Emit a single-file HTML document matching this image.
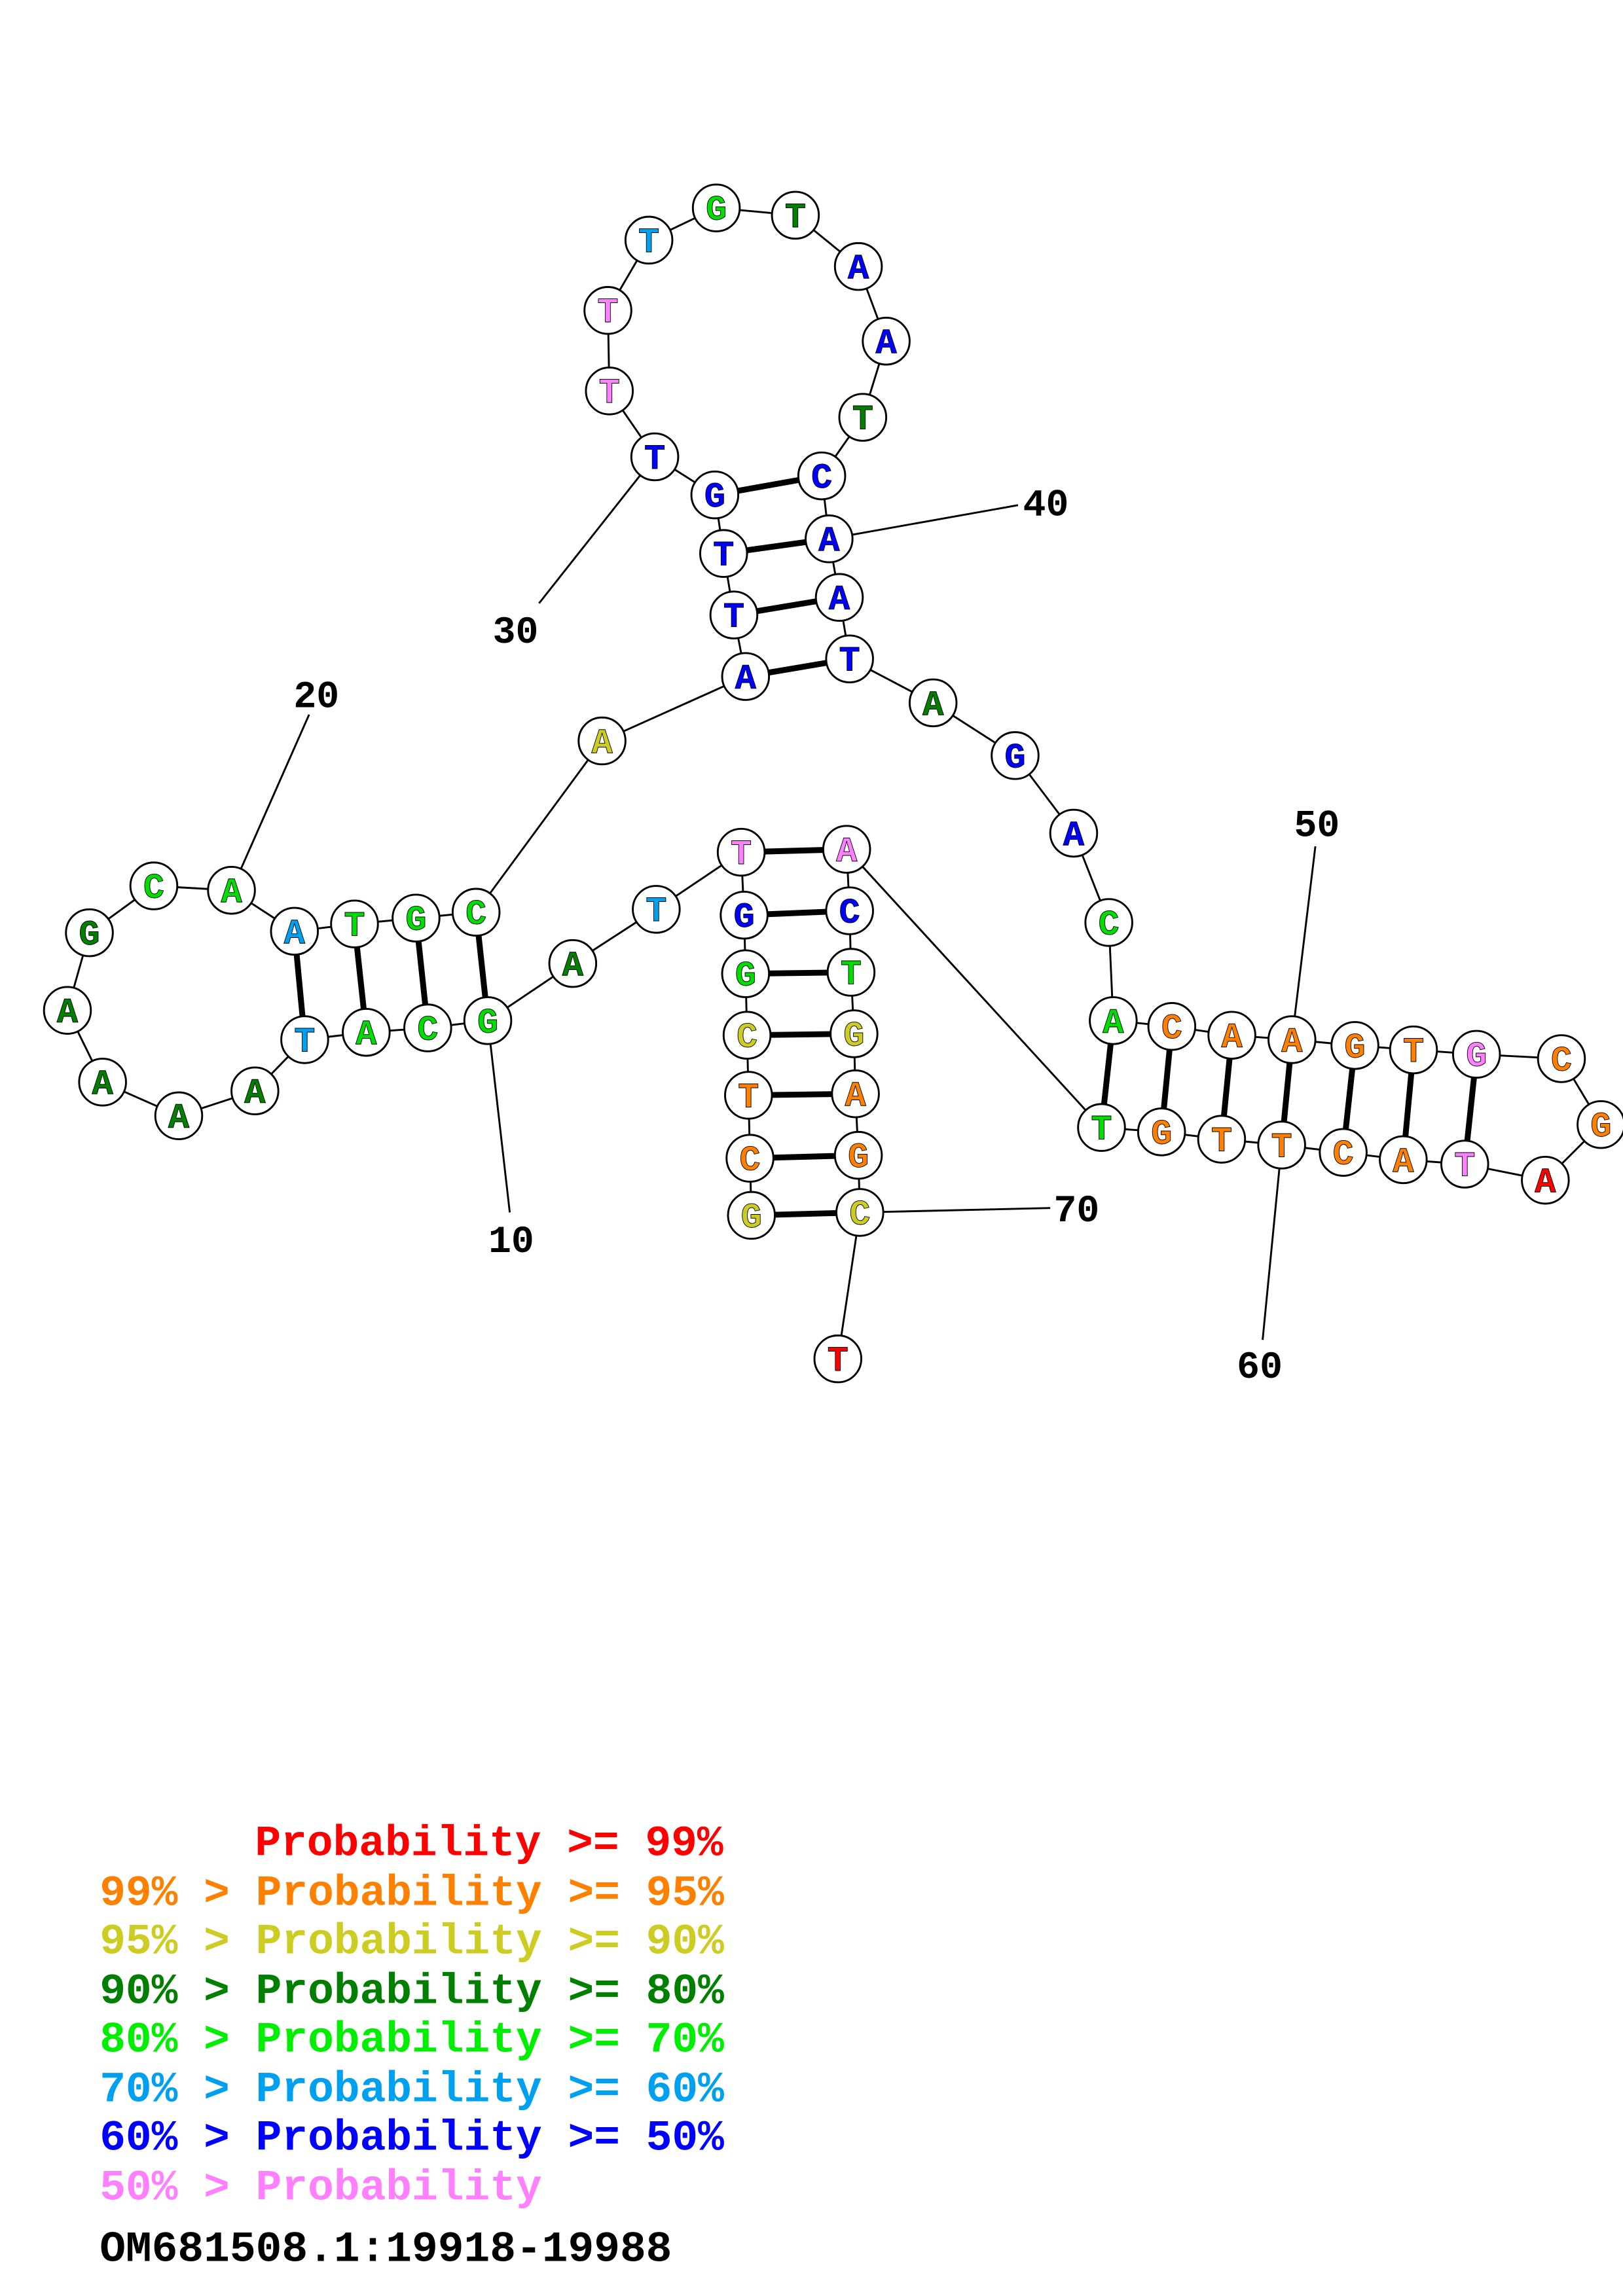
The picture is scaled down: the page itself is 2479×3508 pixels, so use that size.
<!DOCTYPE html>
<html><head><meta charset="utf-8"><style>html,body{margin:0;padding:0;background:#fff}svg{display:block}</style></head>
<body>
<svg xmlns="http://www.w3.org/2000/svg" width="2479" height="3508" viewBox="0 0 1108 1568">
<rect width="1108" height="1568" fill="#fff"/>
<polyline fill="none" stroke="#000" stroke-width="1.3" points="513,830 512,791 511,748 510,707 509,665 508,625 506,582 448,621 391,658 333,697 292,702 250,705 208,710 174,745 122,762 70,739 46,690 61,637 105,605 158,608 201,636 242,631 284,627 325,623 411,506 509,462 501,420 494,378 488,338 447,312 416,267 415,212 443,164 489,142 543,147 586,182 605,233 589,285 561,325 566,368 573,408 580,450 637,480 693,516 733,569 757,630 760,697 800,701 841,707 882,710 925,714 965,717 1008,720 1066,723 1093,768 1055,806 1000,795 958,792 917,787 875,782 834,778 793,773 752,770 578,580 580,622 581,664 583,706 584,747 586,789 587,828 572,928"/>
<g stroke="#000" stroke-width="1.3">
<line x1="333" y1="697" x2="348" y2="828"/>
<line x1="158" y1="608" x2="211" y2="488"/>
<line x1="447" y1="312" x2="368" y2="412"/>
<line x1="566" y1="368" x2="695" y2="345"/>
<line x1="882" y1="710" x2="898" y2="578"/>
<line x1="875" y1="782" x2="862" y2="915"/>
<line x1="587" y1="828" x2="717" y2="825"/>
</g>
<g stroke="#000" stroke-width="4">
<line x1="513" y1="830" x2="587" y2="828"/>
<line x1="512" y1="791" x2="586" y2="789"/>
<line x1="511" y1="748" x2="584" y2="747"/>
<line x1="510" y1="707" x2="583" y2="706"/>
<line x1="509" y1="665" x2="581" y2="664"/>
<line x1="508" y1="625" x2="580" y2="622"/>
<line x1="506" y1="582" x2="578" y2="580"/>
<line x1="333" y1="697" x2="325" y2="623"/>
<line x1="292" y1="702" x2="284" y2="627"/>
<line x1="250" y1="705" x2="242" y2="631"/>
<line x1="208" y1="710" x2="201" y2="636"/>
<line x1="509" y1="462" x2="580" y2="450"/>
<line x1="501" y1="420" x2="573" y2="408"/>
<line x1="494" y1="378" x2="566" y2="368"/>
<line x1="488" y1="338" x2="561" y2="325"/>
<line x1="760" y1="697" x2="752" y2="770"/>
<line x1="800" y1="701" x2="793" y2="773"/>
<line x1="841" y1="707" x2="834" y2="778"/>
<line x1="882" y1="710" x2="875" y2="782"/>
<line x1="925" y1="714" x2="917" y2="787"/>
<line x1="965" y1="717" x2="958" y2="792"/>
<line x1="1008" y1="720" x2="1000" y2="795"/>
</g>
<g fill="#fff" stroke="#000" stroke-width="1.3">
<circle cx="513" cy="830" r="16"/><circle cx="512" cy="791" r="16"/><circle cx="511" cy="748" r="16"/><circle cx="510" cy="707" r="16"/><circle cx="509" cy="665" r="16"/><circle cx="508" cy="625" r="16"/><circle cx="506" cy="582" r="16"/><circle cx="448" cy="621" r="16"/><circle cx="391" cy="658" r="16"/><circle cx="333" cy="697" r="16"/>
<circle cx="292" cy="702" r="16"/><circle cx="250" cy="705" r="16"/><circle cx="208" cy="710" r="16"/><circle cx="174" cy="745" r="16"/><circle cx="122" cy="762" r="16"/><circle cx="70" cy="739" r="16"/><circle cx="46" cy="690" r="16"/><circle cx="61" cy="637" r="16"/><circle cx="105" cy="605" r="16"/><circle cx="158" cy="608" r="16"/>
<circle cx="201" cy="636" r="16"/><circle cx="242" cy="631" r="16"/><circle cx="284" cy="627" r="16"/><circle cx="325" cy="623" r="16"/><circle cx="411" cy="506" r="16"/><circle cx="509" cy="462" r="16"/><circle cx="501" cy="420" r="16"/><circle cx="494" cy="378" r="16"/><circle cx="488" cy="338" r="16"/><circle cx="447" cy="312" r="16"/>
<circle cx="416" cy="267" r="16"/><circle cx="415" cy="212" r="16"/><circle cx="443" cy="164" r="16"/><circle cx="489" cy="142" r="16"/><circle cx="543" cy="147" r="16"/><circle cx="586" cy="182" r="16"/><circle cx="605" cy="233" r="16"/><circle cx="589" cy="285" r="16"/><circle cx="561" cy="325" r="16"/><circle cx="566" cy="368" r="16"/>
<circle cx="573" cy="408" r="16"/><circle cx="580" cy="450" r="16"/><circle cx="637" cy="480" r="16"/><circle cx="693" cy="516" r="16"/><circle cx="733" cy="569" r="16"/><circle cx="757" cy="630" r="16"/><circle cx="760" cy="697" r="16"/><circle cx="800" cy="701" r="16"/><circle cx="841" cy="707" r="16"/><circle cx="882" cy="710" r="16"/>
<circle cx="925" cy="714" r="16"/><circle cx="965" cy="717" r="16"/><circle cx="1008" cy="720" r="16"/><circle cx="1066" cy="723" r="16"/><circle cx="1093" cy="768" r="16"/><circle cx="1055" cy="806" r="16"/><circle cx="1000" cy="795" r="16"/><circle cx="958" cy="792" r="16"/><circle cx="917" cy="787" r="16"/><circle cx="875" cy="782" r="16"/>
<circle cx="834" cy="778" r="16"/><circle cx="793" cy="773" r="16"/><circle cx="752" cy="770" r="16"/><circle cx="578" cy="580" r="16"/><circle cx="580" cy="622" r="16"/><circle cx="581" cy="664" r="16"/><circle cx="583" cy="706" r="16"/><circle cx="584" cy="747" r="16"/><circle cx="586" cy="789" r="16"/><circle cx="587" cy="828" r="16"/>
<circle cx="572" cy="928" r="16"/>
</g>
<g font-family="Liberation Mono, monospace" font-weight="bold" font-size="24" text-anchor="middle" stroke="#000" stroke-width="0.4">
<text x="513" y="838" fill="#cccc22">G</text><text x="512" y="799" fill="#ff8000">C</text><text x="511" y="756" fill="#ff8000">T</text><text x="510" y="715" fill="#cccc22">C</text><text x="509" y="673" fill="#00dd00">G</text><text x="508" y="633" fill="#0000ff">G</text><text x="506" y="590" fill="#ff80ff">T</text><text x="448" y="629" fill="#00a0f0">T</text><text x="391" y="666" fill="#007f00">A</text><text x="333" y="705" fill="#00dd00">G</text>
<text x="292" y="710" fill="#00dd00">C</text><text x="250" y="713" fill="#00dd00">A</text><text x="208" y="718" fill="#00a0f0">T</text><text x="174" y="753" fill="#007f00">A</text><text x="122" y="770" fill="#007f00">A</text><text x="70" y="747" fill="#007f00">A</text><text x="46" y="698" fill="#007f00">A</text><text x="61" y="645" fill="#007f00">G</text><text x="105" y="613" fill="#00dd00">C</text><text x="158" y="616" fill="#00dd00">A</text>
<text x="201" y="644" fill="#00a0f0">A</text><text x="242" y="639" fill="#00dd00">T</text><text x="284" y="635" fill="#00dd00">G</text><text x="325" y="631" fill="#00dd00">C</text><text x="411" y="514" fill="#cccc22">A</text><text x="509" y="470" fill="#0000ff">A</text><text x="501" y="428" fill="#0000ff">T</text><text x="494" y="386" fill="#0000ff">T</text><text x="488" y="346" fill="#0000ff">G</text><text x="447" y="320" fill="#0000ff">T</text>
<text x="416" y="275" fill="#ff80ff">T</text><text x="415" y="220" fill="#ff80ff">T</text><text x="443" y="172" fill="#00a0f0">T</text><text x="489" y="150" fill="#00dd00">G</text><text x="543" y="155" fill="#007f00">T</text><text x="586" y="190" fill="#0000ff">A</text><text x="605" y="241" fill="#0000ff">A</text><text x="589" y="293" fill="#007f00">T</text><text x="561" y="333" fill="#0000ff">C</text><text x="566" y="376" fill="#0000ff">A</text>
<text x="573" y="416" fill="#0000ff">A</text><text x="580" y="458" fill="#0000ff">T</text><text x="637" y="488" fill="#007f00">A</text><text x="693" y="524" fill="#0000ff">G</text><text x="733" y="577" fill="#0000ff">A</text><text x="757" y="638" fill="#00dd00">C</text><text x="760" y="705" fill="#00dd00">A</text><text x="800" y="709" fill="#ff8000">C</text><text x="841" y="715" fill="#ff8000">A</text><text x="882" y="718" fill="#ff8000">A</text>
<text x="925" y="722" fill="#ff8000">G</text><text x="965" y="725" fill="#ff8000">T</text><text x="1008" y="728" fill="#ff80ff">G</text><text x="1066" y="731" fill="#ff8000">C</text><text x="1093" y="776" fill="#ff8000">G</text><text x="1055" y="814" fill="#ff0000">A</text><text x="1000" y="803" fill="#ff80ff">T</text><text x="958" y="800" fill="#ff8000">A</text><text x="917" y="795" fill="#ff8000">C</text><text x="875" y="790" fill="#ff8000">T</text>
<text x="834" y="786" fill="#ff8000">T</text><text x="793" y="781" fill="#ff8000">G</text><text x="752" y="778" fill="#00dd00">T</text><text x="578" y="588" fill="#ff80ff">A</text><text x="580" y="630" fill="#0000ff">C</text><text x="581" y="672" fill="#00dd00">T</text><text x="583" y="714" fill="#cccc22">G</text><text x="584" y="755" fill="#ff8000">A</text><text x="586" y="797" fill="#ff8000">G</text><text x="587" y="836" fill="#cccc22">C</text>
<text x="572" y="936" fill="#ff0000">T</text>
</g>
<g font-family="Liberation Mono, monospace" font-weight="bold" font-size="26" fill="#000" text-anchor="middle">
<text x="349" y="855">10</text>
<text x="216" y="483">20</text>
<text x="352" y="439">30</text>
<text x="714" y="352">40</text>
<text x="899" y="571">50</text>
<text x="860" y="941">60</text>
<text x="735" y="834">70</text>
</g>
<g font-family="Liberation Mono, monospace" font-weight="bold" font-size="29.6">
<text x="174" y="1267" fill="#ff0000">Probability &gt;= 99%</text>
<text x="68" y="1301" fill="#ff8000">99% &gt; Probability &gt;= 95%</text>
<text x="68" y="1334" fill="#cccc22">95% &gt; Probability &gt;= 90%</text>
<text x="68" y="1368" fill="#007f00">90% &gt; Probability &gt;= 80%</text>
<text x="68" y="1401" fill="#00ee00">80% &gt; Probability &gt;= 70%</text>
<text x="68" y="1435" fill="#00a0f0">70% &gt; Probability &gt;= 60%</text>
<text x="68" y="1468" fill="#0000ff">60% &gt; Probability &gt;= 50%</text>
<text x="68" y="1502" fill="#ff80ff">50% &gt; Probability</text>
<text x="68" y="1544" fill="#000">OM681508.1:19918-19988</text>
</g>
</svg>
</body></html>
